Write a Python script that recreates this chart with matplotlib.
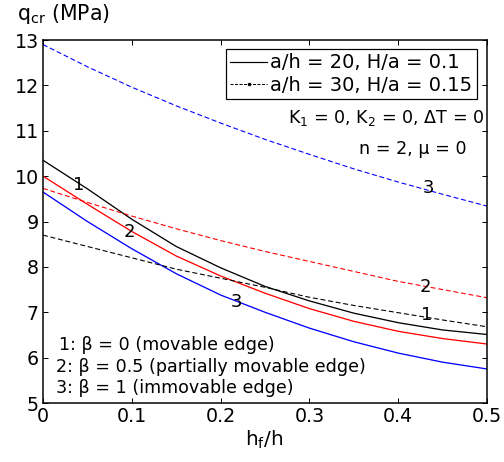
import matplotlib
matplotlib.use("Agg")
import matplotlib.pyplot as plt
from matplotlib.lines import Line2D

plt.rcParams['font.family'] = ['DejaVu Sans']
plt.rcParams['mathtext.fontset'] = 'dejavusans'

# Thickness ratio h_f/h
hf_h = [0.0, 0.05, 0.1, 0.15, 0.2, 0.25, 0.3, 0.35, 0.4, 0.45, 0.5]

# a/h = 20, H/a = 0.1 (solid lines)
q20_beta0 = [10.35, 9.72, 9.05, 8.45, 7.98, 7.57, 7.25, 6.98, 6.77, 6.61, 6.51]
q20_beta05 = [10.0, 9.38, 8.78, 8.24, 7.80, 7.42, 7.08, 6.80, 6.58, 6.42, 6.30]
q20_beta1 = [9.65, 9.00, 8.40, 7.85, 7.38, 7.00, 6.65, 6.35, 6.10, 5.90, 5.75]

# a/h = 30, H/a = 0.15 (dashed lines)
q30_beta0 = [8.70, 8.45, 8.20, 7.95, 7.75, 7.55, 7.33, 7.15, 6.99, 6.83, 6.68]
q30_beta05 = [9.73, 9.42, 9.12, 8.84, 8.58, 8.34, 8.12, 7.90, 7.68, 7.50, 7.32]
q30_beta1 = [12.90, 12.41, 11.96, 11.55, 11.17, 10.81, 10.48, 10.16, 9.87, 9.60, 9.34]

x_ticks = [0, 0.1, 0.2, 0.3, 0.4, 0.5]
x_tick_labels = ["0", "0.1", "0.2", "0.3", "0.4", "0.5"]
y_ticks = [5, 6, 7, 8, 9, 10, 11, 12, 13]

fig = plt.figure(figsize=(7.0, 6.4167), dpi=72)
ax = fig.add_axes([0.0853, 0.1277, 0.881, 0.7857])

solid_kw = dict(linestyle='-', linewidth=1.3)
dash_kw = dict(linestyle=(0, (4.5, 2.5)), linewidth=1.1)

ax.plot(hf_h, q20_beta0, color='black', **solid_kw)
ax.plot(hf_h, q20_beta05, color='red', **solid_kw)
ax.plot(hf_h, q20_beta1, color='blue', **solid_kw)
ax.plot(hf_h, q30_beta0, color='black', **dash_kw)
ax.plot(hf_h, q30_beta05, color='red', **dash_kw)
ax.plot(hf_h, q30_beta1, color='blue', **dash_kw)

ax.set_xlim(0, 0.5)
ax.set_ylim(5, 13)
ax.set_xticks(x_ticks)
ax.set_xticklabels(x_tick_labels)
ax.set_yticks(y_ticks)
ax.tick_params(direction='in', length=5, width=1.0, top=True, right=True,
               labelsize=19, pad=4, colors='black')
for s in ax.spines.values():
    s.set_linewidth(1.5)

# Curve numbers
lab_fs = 18
ax.text(0.04, 9.80, "1", fontsize=lab_fs, ha='center', va='center')
ax.text(0.097, 8.77, "2", fontsize=lab_fs, ha='center', va='center')
ax.text(0.218, 7.22, "3", fontsize=lab_fs, ha='center', va='center')
ax.text(0.432, 6.94, "1", fontsize=lab_fs, ha='center', va='center')
ax.text(0.431, 7.56, "2", fontsize=lab_fs, ha='center', va='center')
ax.text(0.434, 9.74, "3", fontsize=lab_fs, ha='center', va='center')

# Parameter annotations
ax.text(0.993, 0.785, "K$_1$ = 0, K$_2$ = 0, \u0394T = 0", transform=ax.transAxes,
        fontsize=17.5, ha='right', va='center')
ax.text(0.955, 0.70, "n = 2, \u03bc = 0", transform=ax.transAxes,
        fontsize=17.5, ha='right', va='center')

ax.text(0.035, 0.160, "1: \u03b2 = 0 (movable edge)", transform=ax.transAxes,
        fontsize=17.5, ha='left', va='center')
ax.text(0.030, 0.100, "2: \u03b2 = 0.5 (partially movable edge)", transform=ax.transAxes,
        fontsize=17.5, ha='left', va='center')
ax.text(0.030, 0.042, "3: \u03b2 = 1 (immovable edge)", transform=ax.transAxes,
        fontsize=17.5, ha='left', va='center')

# Legend
handles = [
    Line2D([], [], color='black', linestyle='-', linewidth=1.2),
    Line2D([], [], color='black', linestyle=(0, (3, 1.5)), linewidth=1.0,
           marker='.', markersize=5),
]
leg = ax.legend(handles, ["a/h = 20, H/a = 0.1", "a/h = 30, H/a = 0.15"],
                loc='upper right', bbox_to_anchor=(0.977, 0.975), borderaxespad=0,
                fontsize=19.5, fancybox=False, framealpha=1, edgecolor='black',
                handlelength=1.9, handletextpad=0.15, labelspacing=0.18,
                borderpad=0.22, numpoints=1)
leg.get_frame().set_linewidth(1.2)

# Axis labels
fig.text(17 / 504, 1 - 14 / 462, r"q$_{\mathregular{cr}}$ (MPa)", fontsize=20.5,
         ha='left', va='center')
fig.text(264 / 504, 1 - 440 / 462, r"h$_{\mathregular{f}}$/h", fontsize=20,
         ha='center', va='center')

fig.savefig("out.png", dpi=72)
